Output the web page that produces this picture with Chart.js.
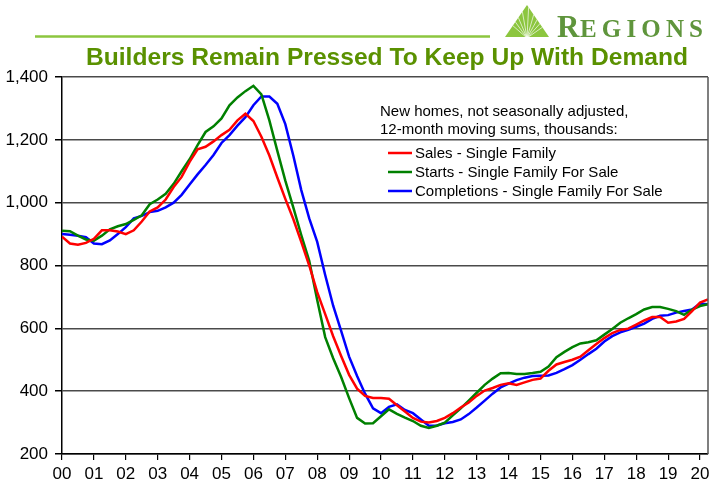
<!DOCTYPE html>
<html>
<head>
<meta charset="utf-8">
<script src="https://cdn.jsdelivr.net/npm/chart.js@4.4.1/dist/chart.umd.min.js"></script>
<style>
  html, body { margin: 0; padding: 0; background: #fff; }
  #wrap { position: relative; width: 714px; height: 487px; }
</style>
</head>
<body>
<div id="wrap"><canvas id="myChart"></canvas></div>
<script>
const FONT = '"Liberation Sans", Arial, sans-serif';

// x axis tick labels (years 2000-2020)
const yearLabels = ["00", "01", "02", "03", "04", "05", "06", "07", "08", "09", "10",
  "11", "12", "13", "14", "15", "16", "17", "18", "19", "20"];
const yTicks = [200, 400, 600, 800, 1000, 1200, 1400];

const seriesNames = [
  "Sales - Single Family",
  "Starts - Single Family For Sale",
  "Completions - Single Family For Sale",
];
const seriesColors = ["#ff0000", "#008000", "#0000ff"];

// quarterly readings, Q1 2000 .. Q2 2020 (thousands, 12-month sums)
const sales = [
  892, 870, 866, 872, 885, 912, 912, 908, 900, 912, 940, 972,
  985, 1010, 1050, 1082, 1130, 1170, 1178, 1195, 1215, 1232, 1262, 1283,
  1260, 1210, 1150, 1080, 1012, 948, 875, 800, 715, 645, 575, 512,
  452, 408, 385, 378, 378, 376, 355, 335, 315, 303, 300, 305,
  315, 330, 348, 364, 385, 402, 410, 420, 425, 420, 428, 436,
  440, 465, 485, 493, 500, 510, 530, 550, 569, 585, 595, 599,
  612, 625, 636, 636, 618, 622, 630, 655, 682, 692,
];
const starts = [
  911, 909, 895, 883, 879, 895, 915, 925, 932, 945, 960, 995,
  1010, 1028, 1060, 1100, 1138, 1183, 1225, 1243, 1268, 1310, 1335, 1355,
  1372, 1345, 1262, 1165, 1070, 985, 897, 815, 690, 572, 505, 445,
  378, 315, 297, 298, 320, 342, 328, 316, 305, 290, 283, 290,
  300, 323, 345, 370, 395, 420, 440, 457, 458, 455, 455, 458,
  462, 478, 508, 525, 540, 552, 556, 562, 580, 598, 618, 632,
  645, 660, 668, 668, 662, 655, 643, 660, 671, 677,
];
const completions = [
  900, 898, 895, 890, 870, 868, 880, 900, 922, 950, 958, 970,
  974, 985, 1000, 1025, 1058, 1090, 1120, 1152, 1190, 1215, 1245, 1272,
  1310, 1338, 1338, 1315, 1250, 1150, 1040, 950, 875, 770, 672, 592,
  510, 448, 392, 345, 330, 350, 358, 340, 330, 310, 290, 291,
  298, 302, 310, 327, 348, 370, 392, 412, 424, 435, 443, 448,
  449, 450, 458, 470, 483, 500, 518, 535, 558, 575, 587, 595,
  605, 615, 630, 640, 642, 650, 655, 660, 679, 677,
];

const title = "Builders Remain Pressed To Keep Up With Demand";
const legendHeader = ["New homes, not seasonally adjusted,", "12-month moving sums, thousands:"];

const toPoints = (arr) => arr.map((v, i) => ({ x: i / 4, y: v }));

const decorations = {
  id: "decorations",
  beforeDraw(chart) {
    const ctx = chart.ctx;
    ctx.save();
    ctx.fillStyle = "#fff";
    ctx.fillRect(0, 0, chart.width, chart.height);
    ctx.restore();
  },
  afterDraw(chart) {
    const ctx = chart.ctx;
    const area = chart.chartArea;
    ctx.save();

    // right frame
    ctx.strokeStyle = "#555";
    ctx.lineWidth = 1.5;
    ctx.beginPath();
    ctx.moveTo(area.right, area.top);
    ctx.lineTo(area.right, area.bottom);
    ctx.stroke();

    // green rule
    ctx.strokeStyle = "#8cc63f";
    ctx.lineWidth = 2.5;
    ctx.beginPath();
    ctx.moveTo(35, 36.5);
    ctx.lineTo(490, 36.5);
    ctx.stroke();

    // title
    ctx.font = "bold 24px " + FONT;
    ctx.fillStyle = "#5a9100";
    ctx.textBaseline = "alphabetic";
    ctx.textAlign = "left";
    let w = ctx.measureText(title).width;
    ctx.save();
    ctx.translate(86, 65);
    ctx.scale(602 / w, 1);
    ctx.fillText(title, 0, 0);
    ctx.restore();

    // logo triangle
    ctx.save();
    ctx.beginPath();
    ctx.moveTo(527, 5);
    ctx.lineTo(549, 37);
    ctx.lineTo(505, 37);
    ctx.closePath();
    ctx.fillStyle = "#8cc63f";
    ctx.fill();
    ctx.clip();
    ctx.strokeStyle = "rgba(255,255,255,0.85)";
    ctx.lineWidth = 0.8;
    for (let a = 35; a <= 145; a += 13) {
      const r = (a * Math.PI) / 180;
      ctx.beginPath();
      ctx.moveTo(527, 38);
      ctx.lineTo(527 + Math.cos(r) * 40, 38 - Math.sin(r) * 40);
      ctx.stroke();
    }
    ctx.restore();

    // logo text
    ctx.fillStyle = "#5f953c";
    ctx.font = "bold 31px \"Liberation Serif\", \"Times New Roman\", serif";
    ctx.fillText("R", 557, 37);
    ctx.font = "bold 25px \"Liberation Serif\", \"Times New Roman\", serif";
    const rest = "EGIONS";
    let total = 0;
    for (const ch of rest) total += ctx.measureText(ch).width;
    const gap = (703 - 580 - total) / (rest.length - 1);
    let x = 580;
    for (const ch of rest) {
      ctx.fillText(ch, x, 37);
      x += ctx.measureText(ch).width + gap;
    }

    // legend
    ctx.fillStyle = "#000";
    ctx.font = "15px " + FONT;
    ctx.textBaseline = "middle";
    ctx.fillText(legendHeader[0], 380, 112);
    ctx.fillText(legendHeader[1], 380, 130);
    const rows = [153, 172, 191];
    chart.data.datasets.forEach((ds, i) => {
      ctx.strokeStyle = ds.borderColor;
      ctx.lineWidth = 2.5;
      ctx.beginPath();
      ctx.moveTo(388, rows[i]);
      ctx.lineTo(412, rows[i]);
      ctx.stroke();
      ctx.fillStyle = "#000";
      ctx.fillText(ds.label, 415, rows[i] + 0.5);
    });

    ctx.restore();
  },
};

new Chart(document.getElementById("myChart").getContext("2d"), {
  type: "line",
  data: {
    datasets: [
      { label: seriesNames[0], data: toPoints(sales), borderColor: seriesColors[0] },
      { label: seriesNames[1], data: toPoints(starts), borderColor: seriesColors[1] },
      { label: seriesNames[2], data: toPoints(completions), borderColor: seriesColors[2] },
    ],
  },
  options: {
    responsive: true,
    maintainAspectRatio: false,
    animation: false,
    elements: {
      point: { radius: 0 },
      line: { borderWidth: 2.5, tension: 0, fill: false },
    },
    layout: { padding: { top: 77, left: 0, right: 6, bottom: 0 } },
    plugins: {
      legend: { display: false },
      tooltip: { enabled: false },
      title: { display: false },
    },
    scales: {
      x: {
        type: "linear",
        min: 0,
        max: 20.25,
        afterBuildTicks: (scale) => {
          scale.ticks = yearLabels.map((_, i) => ({ value: i }));
        },
        afterFit: (scale) => {
          scale.height = 33;
        },
        ticks: {
          stepSize: 1,
          autoSkip: false,
          maxRotation: 0,
          padding: 4,
          color: "#000",
          font: { family: FONT, size: 17 },
          callback: (v) => yearLabels[v],
        },
        grid: { drawOnChartArea: false, drawTicks: true, tickLength: 6, tickColor: "#000", lineWidth: 1.2 },
        border: { color: "#000", width: 1.5 },
      },
      y: {
        min: 200,
        max: 1400,
        afterBuildTicks: (scale) => {
          scale.ticks = yTicks.map((v) => ({ value: v }));
        },
        afterFit: (scale) => {
          scale.width = 62;
        },
        ticks: {
          stepSize: 200,
          padding: 7,
          color: "#000",
          font: { family: FONT, size: 17 },
          callback: (v) => v.toLocaleString("en-US"),
        },
        grid: { color: "#4a4a4a", lineWidth: 1.5, tickLength: 7, tickColor: "#000" },
        border: { color: "#000", width: 1.5 },
      },
    },
  },
  plugins: [decorations],
});
</script>
</body>
</html>
